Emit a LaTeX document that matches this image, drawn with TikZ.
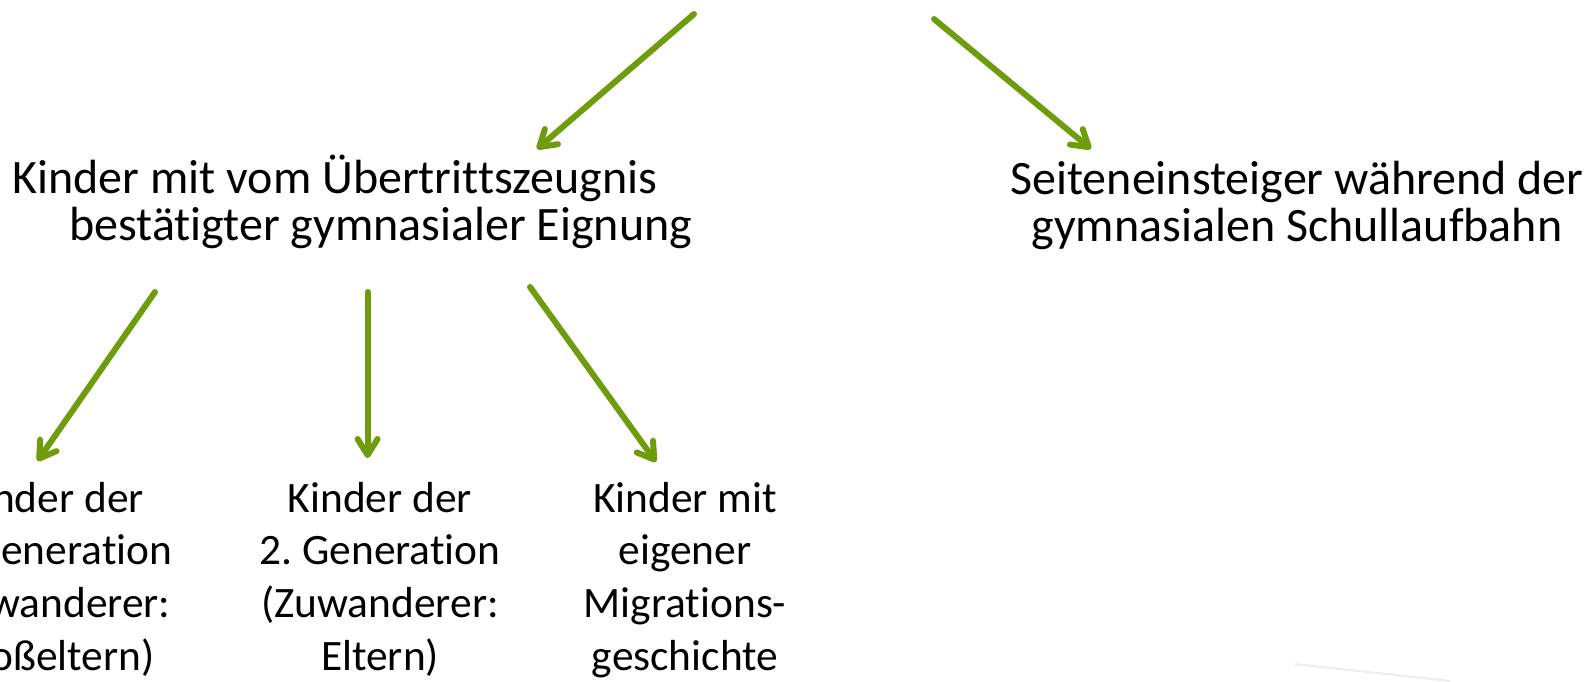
\documentclass[tikz,border=0pt]{standalone}
\usepackage{fontspec}
\setmainfont{Carlito}[Ligatures={NoCommon,NoContextual,NoRare}]
\usetikzlibrary{arrows.meta}
\definecolor{arrowgreen}{HTML}{6E9C0C}
\frenchspacing
\begin{document}
\begin{tikzpicture}[x=0.5pt,y=-0.5pt,
  conn/.style={draw=arrowgreen,line width=3pt,line cap=round,
    -{Straight Barb[length=8pt,width=10pt,line cap=round,line join=round]}},
  bigtext/.style={inner sep=0pt,font=\fontsize{24pt}{23.5pt}\selectfont},
  smalltext/.style={inner sep=0pt,align=center,font=\fontsize{21.7pt}{26.3pt}\selectfont}]
\useasboundingbox (0,0) rectangle (1588,681);
\clip (0,0) rectangle (1588,681);
% top-level arrows
\coordinate (t1) at (694,14);
\coordinate (t2) at (934,19);
\node[bigtext,align=left,anchor=base west] (elig) at (12,240)
  {Kinder mit vom Übertrittszeugnis\\\hspace*{28.5pt}bestätigter gymnasialer Eignung};
\node[bigtext,align=center,anchor=base] (side) at (1297,241)
  {Seiteneinsteiger während der\\gymnasialen Schullaufbahn};
\coordinate (e1) at (537,149);
\coordinate (e2) at (1091,149);
\draw[conn] (t1) -- (e1);
\draw[conn] (t2) -- (e2);
% bottom nodes
\node[smalltext,anchor=base] (gen1) at (51.7,670)
  {Kinder der\\1. Generation\\(Zuwanderer:\\Großeltern)};
\node[smalltext,anchor=base] (gen2) at (380,670)
  {Kinder der\\2. Generation\\(Zuwanderer:\\Eltern)};
\node[smalltext,anchor=base] (own) at (685,670)
  {Kinder mit\\eigener\\Migrations-\\geschichte};
\coordinate (s1) at (155,292);
\coordinate (s2) at (367.6,292);
\coordinate (s3) at (530,287);
\coordinate (b1) at (37.5,461);
\coordinate (b2) at (367.6,458);
\coordinate (b3) at (656,462);
\draw[conn] (s1) -- (b1);
\draw[conn] (s2) -- (b2);
\draw[conn] (s3) -- (b3);
% faint line bottom right
\coordinate (f1) at (1295,664);
\coordinate (f2) at (1450,681);
\draw[gray!15,line width=1pt] (f1) -- (f2);
\end{tikzpicture}
\end{document}
